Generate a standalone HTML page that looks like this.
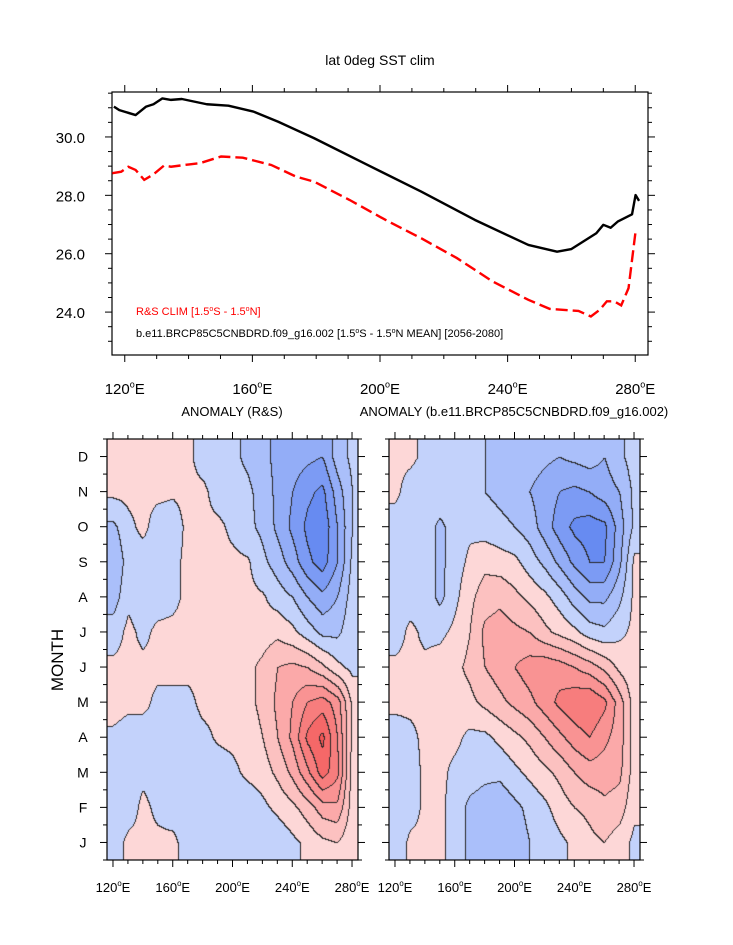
<!DOCTYPE html>
<html><head><meta charset="utf-8"><style>
html,body{margin:0;padding:0;background:#fff;width:733px;height:945px;overflow:hidden}
#wrap{position:relative;width:733px;height:945px;font-family:"Liberation Sans",sans-serif}
canvas{position:absolute}
svg{position:absolute;left:0;top:0}
</style></head><body>
<div id="wrap">
<canvas id="cL" width="251" height="421" style="left:107px;top:439px"></canvas>
<canvas id="cR" width="251" height="421" style="left:389px;top:439px"></canvas>
<svg id="svg" width="733" height="945"></svg>
</div>
<script>
// ---- top chart data ----
const lonBlack=[116.6,118.3,123.4,126.7,129.0,131.8,134.5,137.9,145.7,152.5,160.3,168.1,179.3,196.1,212.9,229.7,246.5,255.5,260.0,267.8,270.0,272.3,274.5,279.0,280.1,281.2];
const valBlack=[31.04,30.92,30.75,31.04,31.12,31.32,31.27,31.30,31.12,31.07,30.87,30.52,29.96,29.04,28.13,27.16,26.30,26.07,26.16,26.70,26.99,26.89,27.10,27.35,28.01,27.81];
const lonRed=[116.1,118.9,121.1,123.4,126.1,129.0,132.3,134.5,140.2,143.5,150.2,157.0,165.9,173.7,179.3,190.5,201.7,212.9,224.1,235.3,246.5,253.2,262.2,266.1,268.9,271.1,273.4,275.6,277.9,280.1];
const valRed=[28.76,28.81,28.98,28.87,28.53,28.72,29.02,28.98,29.06,29.10,29.33,29.29,29.04,28.64,28.47,27.84,27.16,26.53,25.85,25.05,24.42,24.11,24.04,23.85,24.08,24.37,24.37,24.23,24.82,26.76];
const yTicks=[24,26,28,30];
const xTicks=[120,160,200,240,280];
const monthLabels=['J','F','M','A','M','J','J','A','S','O','N','D'];
const lonGrid=[120,130,140,150,160,170,180,190,200,210,220,230,240,250,260,270,280];
// anomaly R&S, rows Jan..Dec
const anomRS=[
[-0.2,0.1,0.1,0.1,0.1,-0.2,-0.2,-0.2,-0.3,-0.4,-0.4,-0.3,-0.1,0.1,0.3,0.4,0.1],
[-0.3,-0.2,0.1,-0.1,-0.2,-0.2,-0.3,-0.3,-0.4,-0.3,-0.1,0.1,0.3,0.6,1.0,1.1,0.2],
[-0.3,-0.2,-0.1,-0.2,-0.2,-0.2,-0.2,-0.2,-0.1,0.1,0.2,0.5,0.9,1.5,2.2,1.7,0.2],
[-0.1,-0.2,-0.2,-0.1,-0.2,-0.2,-0.1,0.05,0.1,0.2,0.4,0.8,1.3,2.1,2.5,1.6,0.3],
[0.2,0.1,0.1,-0.1,-0.1,-0.1,0.1,0.1,0.1,0.3,0.5,0.9,1.2,1.6,1.8,1.4,0.3],
[0.1,0.1,0.1,0.1,0.1,0.1,0.1,0.1,0.2,0.3,0.5,0.8,0.9,0.8,0.5,0.1,-0.1],
[-0.2,0.1,-0.1,0.1,0.1,0.1,0.1,0.1,0.1,0.1,0.2,0.3,0.1,-0.2,-0.5,-0.5,-0.1],
[-0.6,-0.1,-0.2,-0.2,-0.1,0.1,0.1,0.1,0.1,0.1,0.05,-0.2,-0.4,-0.8,-1.1,-0.8,-0.2],
[-0.8,-0.2,-0.2,-0.2,-0.1,0.1,0.1,0.1,0.1,0.05,-0.3,-0.6,-1.0,-1.5,-1.8,-1.2,-0.3],
[-0.5,-0.1,0.1,-0.2,-0.2,0.1,0.1,0.1,-0.1,-0.3,-0.5,-0.9,-1.3,-1.7,-1.9,-1.2,-0.4],
[0.1,0.1,0.1,0.1,0.05,0.1,0.1,-0.2,-0.2,-0.3,-0.6,-0.9,-1.2,-1.5,-1.7,-1.0,-0.4],
[0.1,0.1,0.1,0.1,0.1,0.1,-0.2,-0.2,-0.3,-0.5,-0.7,-0.9,-1.0,-1.1,-1.2,-0.6,-0.3]];
// anomaly model, rows Jan..Dec
const anomModel=[
[-0.3,0.1,0.1,0.1,-0.2,-0.5,-0.8,-0.8,-0.6,-0.4,-0.3,-0.1,0.1,0.3,0.4,0.2,-0.1],
[-0.3,-0.2,0.1,0.1,-0.2,-0.5,-0.6,-0.7,-0.5,-0.3,-0.1,0.2,0.4,0.5,0.7,0.6,0.1],
[-0.3,-0.2,0.1,0.1,-0.1,-0.2,-0.3,-0.3,-0.1,0.1,0.3,0.5,0.8,1.0,1.0,0.9,0.2],
[-0.2,-0.1,0.1,0.1,0.1,-0.1,-0.1,0.1,0.3,0.5,0.8,1.1,1.4,1.6,1.3,1.0,0.2],
[0.1,0.1,0.1,0.1,0.2,0.3,0.5,0.7,0.9,1.1,1.4,1.7,1.9,2.0,1.7,1.0,0.2],
[0.1,0.1,0.1,0.2,0.3,0.5,0.8,1.0,1.2,1.4,1.5,1.4,1.2,1.0,0.7,0.3,0.1],
[-0.2,0.1,-0.1,-0.1,0.1,0.4,0.9,1.0,0.9,0.8,0.5,0.3,0.1,-0.2,-0.3,-0.1,0.1],
[-0.2,-0.2,-0.2,-0.5,-0.1,0.3,0.6,0.7,0.5,0.3,0.1,-0.2,-0.6,-0.9,-0.9,-0.5,0.1],
[-0.3,-0.3,-0.2,-0.5,-0.2,0.1,0.3,0.2,0.1,-0.2,-0.5,-0.9,-1.3,-1.6,-1.6,-0.9,0.1],
[-0.2,-0.3,-0.2,-0.5,-0.2,-0.1,-0.2,-0.3,-0.4,-0.6,-1.0,-1.4,-1.7,-1.8,-1.7,-1.0,-0.3],
[0.1,-0.2,-0.2,-0.1,-0.2,-0.3,-0.4,-0.5,-0.6,-0.8,-1.0,-1.2,-1.3,-1.2,-1.0,-0.8,-0.3],
[0.1,0.1,-0.1,-0.2,-0.2,-0.2,-0.4,-0.5,-0.5,-0.6,-0.7,-0.8,-0.7,-0.6,-0.8,-0.5,-0.2]];

const posCol=['#fdd7d7','#fcc1c0','#fba9a9','#f99393','#f77d7d','#f56868','#f35555'];
const negCol=['#c3d2fb','#aabffa','#93adf7','#7c9bf4','#678bf1','#5a80ee'];
function hex(h){return [parseInt(h.substr(1,2),16),parseInt(h.substr(3,2),16),parseInt(h.substr(5,2),16)];}
const LON0=116,LON1=284;
function sample(data,lon,m){
  let fi=(lon-120)/10; fi=Math.max(0,Math.min(lonGrid.length-1,fi));
  let fm=Math.max(0,Math.min(11,m));
  const i0=Math.floor(fi),i1=Math.min(i0+1,lonGrid.length-1),tx=fi-i0;
  const m0=Math.floor(fm),m1=Math.min(m0+1,11),ty=fm-m0;
  const a=data[m0][i0]*(1-tx)+data[m0][i1]*tx, b=data[m1][i0]*(1-tx)+data[m1][i1]*tx;
  return a*(1-ty)+b*ty;
}
function drawPanel(id,data){
  const c=document.getElementById(id),ctx=c.getContext('2d'),W=c.width,H=c.height;
  const img=ctx.createImageData(W,H);
  const lev=new Int16Array(W*H);
  for(let y=0;y<H;y++)for(let x=0;x<W;x++){
    const lon=LON0+(x+0.5)/W*(LON1-LON0);
    const m=(H-y-0.5)/(H/12)-0.5;
    lev[y*W+x]=Math.floor(sample(data,lon,m)/0.4);
  }
  for(let y=0;y<H;y++)for(let x=0;x<W;x++){
    const k=lev[y*W+x];
    let col=k>=0?hex(posCol[Math.min(k,posCol.length-1)]):hex(negCol[Math.min(-k-1,negCol.length-1)]);
    if((x>0&&lev[y*W+x-1]!==k)||(y>0&&lev[(y-1)*W+x]!==k)) col=[40,40,40];
    const p=(y*W+x)*4; img.data[p]=col[0];img.data[p+1]=col[1];img.data[p+2]=col[2];img.data[p+3]=255;
  }
  ctx.putImageData(img,0,0);
}
drawPanel('cL',anomRS);
drawPanel('cR',anomModel);

const NS='http://www.w3.org/2000/svg';
const svg=document.getElementById('svg');
function el(t,a,p){const e=document.createElementNS(NS,t);for(const k in a)e.setAttribute(k,a[k]);(p||svg).appendChild(e);return e;}
// top chart geometry
const T={x0:112,x1:648,y0:92,y1:355,vmin:22.53,vmax:31.54};
const tx=l=>T.x0+(l-LON0)/(LON1-LON0)*(T.x1-T.x0);
const ty=v=>T.y1-(v-T.vmin)/(T.vmax-T.vmin)*(T.y1-T.y0);
let t=el('text',{x:380,y:65,'font-size':14,'text-anchor':'middle'});


t.textContent='lat 0deg SST clim';
let fr=el('rect',{x:T.x0,y:T.y0,width:T.x1-T.x0,height:T.y1-T.y0,fill:'none',stroke:'#000','stroke-width':1.2});


for(let l=120;l<=280;l+=10){const mj=(l%40===0);const L=mj?7:4;
  el('line',{x1:tx(l),x2:tx(l),y1:T.y1,y2:T.y1+L,stroke:'#000'});
  el('line',{x1:tx(l),x2:tx(l),y1:T.y0,y2:T.y0-L,stroke:'#000'});}
for(let v=23;v<=31.5;v+=0.5){const mj=(v%2===0);const L=mj?7:4;
  el('line',{x1:T.x0,x2:T.x0-L,y1:ty(v),y2:ty(v),stroke:'#000'});
  el('line',{x1:T.x1,x2:T.x1+L,y1:ty(v),y2:ty(v),stroke:'#000'});}
yTicks.forEach(v=>{const e=el('text',{x:85,y:ty(v)+6,'font-size':15,'text-anchor':'end'});
  
  
  e.textContent=v.toFixed(1);});
function lonLabel(x,y,l,fs){const e=el('text',{x:x,y:y,'font-size':fs,'text-anchor':'middle'});
  
  
  e.appendChild(document.createTextNode(String(l)));
  const s=el('tspan',{'font-size':fs*0.6,dy:-fs*0.45},e);s.textContent='o';
  const s2=el('tspan',{dy:fs*0.45},e);s2.textContent='E';}
xTicks.forEach(l=>lonLabel(tx(l),394,l,15));
const ptsB=lonBlack.map((l,i)=>tx(l)+','+ty(valBlack[i])).join(' ');
let pb=el('polyline',{points:ptsB,fill:'none',stroke:'#000','stroke-width':2.4,'stroke-linejoin':'round'});


const ptsR=lonRed.map((l,i)=>tx(l)+','+ty(valRed[i])).join(' ');
let pr=el('polyline',{points:ptsR,fill:'none',stroke:'#f00','stroke-width':2.4,'stroke-dasharray':'12 5'});


let lg1=el('text',{x:136,y:315,'font-size':11,fill:'#f00'});


lg1.innerHTML='R&amp;S CLIM [1.5<tspan font-size="7" dy="-4">o</tspan><tspan dy="4">S - 1.5</tspan><tspan font-size="7" dy="-4">o</tspan><tspan dy="4">N]</tspan>';
let lg2=el('text',{x:136,y:337,'font-size':11,fill:'#000'});


lg2.innerHTML='b.e11.BRCP85C5CNBDRD.f09_g16.002 [1.5<tspan font-size="7" dy="-4">o</tspan><tspan dy="4">S - 1.5</tspan><tspan font-size="7" dy="-4">o</tspan><tspan dy="4">N MEAN] [2056-2080]</tspan>';

// bottom panels
const PY0=439,PY1=860;
function panel(px0,title,name){
  const px1=px0+251;const X=l=>px0+(l-LON0)/(LON1-LON0)*251;
  let f=el('rect',{x:px0,y:PY0,width:251,height:PY1-PY0,fill:'none',stroke:'#000','stroke-width':1.2});
  
  
  for(let l=120;l<=280;l+=10){const L=(l%40===0)?7:4;
    el('line',{x1:X(l),x2:X(l),y1:PY1,y2:PY1+L,stroke:'#000'});
    el('line',{x1:X(l),x2:X(l),y1:PY0,y2:PY0-L,stroke:'#000'});}
  const mh=(PY1-PY0)/12;
  for(let k=0;k<=24;k++){const y=PY1-k*mh/2;const L=(k%2===1)?7:4;
    el('line',{x1:px0,x2:px0-L,y1:y,y2:y,stroke:'#000'});
    el('line',{x1:px1,x2:px1+L,y1:y,y2:y,stroke:'#000'});}
  xTicks.forEach(l=>lonLabel(X(l),892,l,13));
  let tt=el('text',{x:px0+125,y:416,'font-size':13,'text-anchor':'middle'});
  
  
  tt.textContent=title;
  return mh;
}
const mh=panel(107,'ANOMALY (R&S)','left-panel');
panel(389,'ANOMALY (b.e11.BRCP85C5CNBDRD.f09_g16.002)','right-panel');
monthLabels.forEach((m,i)=>{const e=el('text',{x:83,y:PY1-(i+0.5)*mh+5,'font-size':14,'text-anchor':'middle'});
  
  
  e.textContent=m;});
let yl=el('text',{x:0,y:0,'font-size':17,'text-anchor':'middle',transform:'translate(63,660) rotate(-90)'});


yl.textContent='MONTH';
</script>
</body></html>
